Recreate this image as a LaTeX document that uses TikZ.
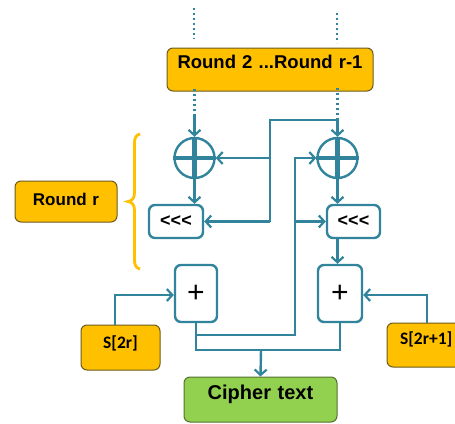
\documentclass[tikz,border=0pt]{standalone}
\usepackage{fontspec}
\setmainfont{Liberation Sans}
\newfontfamily\keyfont{Carlito}
\usetikzlibrary{arrows.meta,calc}

\definecolor{flowc}{HTML}{31849B}
\definecolor{keyfill}{HTML}{FFC000}
\definecolor{keyline}{HTML}{6B5A1E}
\definecolor{outfill}{HTML}{92D050}
\definecolor{outline}{HTML}{55702E}

\tikzset{
  flow/.style={draw=flowc, line width=2.4pt},
  arr/.style={flow, -{Straight Barb[length=5.5pt,width=12pt,line width=2.2pt]}},
  dotline/.style={draw=flowc, line width=2.5pt, dash pattern=on 2pt off 3pt},
  keybox/.style={draw=keyline, line width=1pt, fill=keyfill, rounded corners=6pt,
                 text=black, inner sep=0pt, align=center},
  opbox/.style={draw=flowc, line width=2.4pt, fill=white, rounded corners=6pt},
  xorop/.style={circle, draw=flowc, line width=2.4pt, minimum size=40pt, inner sep=0pt},
}

\begin{document}
\begin{tikzpicture}[x=1pt,y=-1pt]
\useasboundingbox (0,0) rectangle (455,423);

% round boxes (text height/depth place the baseline inside each box)
\node[keybox, text width=206pt, text height=20pt, text depth=23pt,
      font=\bfseries\fontsize{18.5}{18.5}\selectfont]
  (top) at (270,69.5) {Round 2 ...Round r-1};
\node[keybox, text width=102pt, text height=24pt, text depth=17pt,
      font=\bfseries\fontsize{17}{17}\selectfont]
  (rr) at (66,201.5) {Round r};

% operations
\node[xorop] (xorL) at (194.5,158) {};
\node[xorop] (xorR) at (337.5,158) {};
\foreach \n in {xorL,xorR}{
  \draw[flowc, line width=4.5pt] (\n.north) -- (\n.south);
  \draw[flowc, line width=4.5pt] (\n.west) -- (\n.east);
}
\node[opbox, minimum width=54pt, minimum height=33pt, font=\bfseries\fontsize{18}{18}\selectfont]
  (rotL) at (176,221.5) {{<}{<}{<}};
\node[opbox, minimum width=53pt, minimum height=33pt, font=\bfseries\fontsize{18}{18}\selectfont]
  (rotR) at (353.5,221.5) {{<}{<}{<}};
\node[opbox, minimum width=42pt, minimum height=57pt, font=\fontsize{30}{30}\selectfont]
  (addL) at (196,293.5) {+};
\node[opbox, minimum width=44pt, minimum height=57pt, font=\fontsize{30}{30}\selectfont]
  (addR) at (340,293.5) {+};

% keys and output
\node[keybox, text width=79pt, text height=23.5pt, text depth=21.5pt,
      font=\keyfont\bfseries\fontsize{17.5}{17.5}\selectfont]
  (sL) at (120.5,347.5) {S[2r]};
\node[keybox, text width=80pt, text height=21pt, text depth=23pt, align=left,
      font=\keyfont\bfseries\fontsize{17.5}{17.5}\selectfont]
  (sR) at (427,345) {\hspace*{13pt}S[2r+1]};
\node[keybox, fill=outfill, draw=outline, text width=153pt, text height=22pt, text depth=23pt,
      font=\bfseries\fontsize{20}{20}\selectfont]
  (ct) at (260.5,399.5) {Cipher text};

% incoming halves, coming from the earlier rounds
\coordinate (aTop) at (194,8);
\coordinate (aEnd) at (194,39);
\coordinate (bTop) at (337,13);
\coordinate (bEnd) at (337,43);
\coordinate (aIn) at (194.5,114);
\coordinate (bIn) at (337.5,120);
\draw[dotline] (aTop) -- (aEnd);
\draw[dotline] (bTop) -- (bEnd);
\draw[dotline] ([yshift=3pt]aIn |- top.south) -- (aIn);
\draw[dotline] ([yshift=4pt]bIn |- top.south) -- ([yshift=-3pt]bIn);
\draw[arr] (aIn) -- (xorL.north);
\draw[arr] (bIn) -- (xorR.north);

% B feeds the left half
\coordinate (bSplit) at (270,120);
\draw[flow] (bIn) -- (bSplit) -- (bSplit |- rotL.east);
\draw[arr] (bSplit |- xorL.east) -- (xorL.east);
\draw[arr] (bSplit |- rotL.east) -- (rotL.east);

% vertical steps
\draw[arr] (xorL.south) -- (xorL.south |- rotL.north);
\draw[arr] (xorR.south) -- (xorR.south |- rotR.north);
\draw[arr] (xorR.south |- rotR.south) -- (xorR.south |- addR.north);

% new A feeds the right half
\coordinate (aFeed) at (295,335);
\draw[arr] (addL.south |- aFeed) -| (aFeed |- xorR.west) -- (xorR.west);
\draw[arr] (aFeed |- rotR.west) -- (rotR.west);

% round keys
\coordinate (kL) at (115,295);
\coordinate (kR) at (427,295);
\draw[arr] (kL |- sL.north) -- (kL) -- (kL -| addL.west);
\draw[arr] (kR |- sR.north) -- (kR) -- (kR -| addR.east);

% output
\coordinate (join) at (261,350);
\draw[flow] (addL.south) |- (join) -| (addR.south);
\draw[arr] (join) -- (ct.north);

% brace marking the last round
\draw[draw=keyfill, line width=2.8pt]
  (140,134) .. controls (136,135) and (134.5,138) .. (134.5,143) -- (134.5,193)
  .. controls (134.5,198) and (132,201) .. (128,201.5)
  .. controls (132,202) and (134.5,205) .. (134.5,210) -- (134.5,260)
  .. controls (134.5,265) and (136,268) .. (140,269);
\end{tikzpicture}
\end{document}
